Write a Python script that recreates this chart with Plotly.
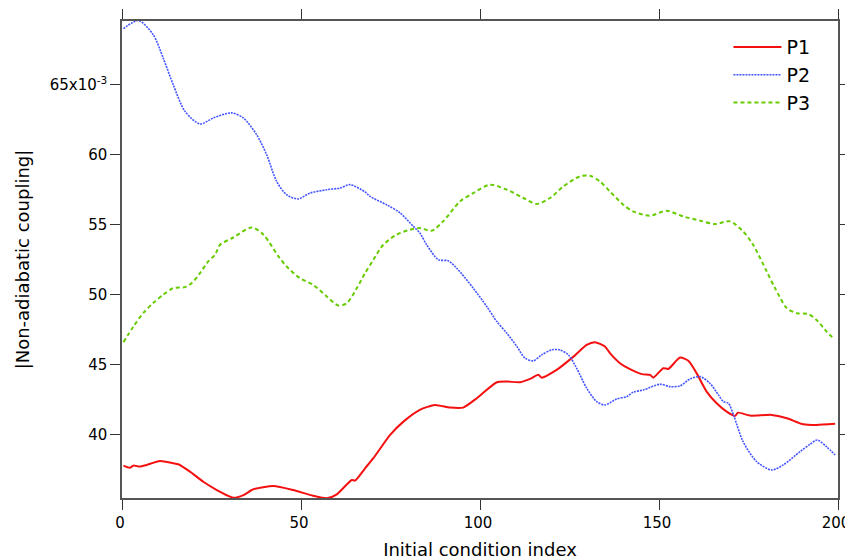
import plotly.graph_objects as go

# values in units of 1e-3
p1_x = [0.4, 2.2, 3.2, 5.0, 6.9, 10.6, 14.3, 15.7, 19.0, 22.7, 26.5, 31.1, 33.9, 36.7, 42.3, 47.8,
        53.4, 57.2, 60.0, 64.2, 65.1, 67.9, 70.2, 74.9, 78.6, 83.2, 87.4, 91.6, 95.3, 99.1, 104.7,
        107.5, 111.2, 114.0, 116.3, 117.2, 121.4, 126.1, 129.8, 132.1, 134.9, 136.3, 139.1, 141.9,
        145.2, 147.5, 148.4, 151.2, 152.6, 155.9, 158.2, 160.5, 163.3, 166.1, 168.9, 171.2, 172.1,
        175.4, 181.5, 185.7, 190.3, 194.0, 199.2]
p1_y = [37.81, 37.66, 37.81, 37.74, 37.86, 38.14, 37.98, 37.91, 37.38, 36.66, 36.07, 35.52, 35.71,
        36.12, 36.36, 36.07, 35.66, 35.48, 35.76, 36.79, 36.74, 37.62, 38.34, 40.0, 40.95, 41.79,
        42.14, 41.95, 41.95, 42.62, 43.76, 43.81, 43.76, 44.0, 44.29, 44.09, 44.64, 45.59, 46.43,
        46.62, 46.31, 45.84, 45.12, 44.69, 44.34, 44.29, 44.09, 44.76, 44.71, 45.52, 45.29, 44.41,
        43.09, 42.26, 41.66, 41.36, 41.59, 41.38, 41.43, 41.19, 40.76, 40.71, 40.79]

p2_x = [0.4, 4.6, 8.7, 11.5, 14.3, 17.6, 21.8, 25.5, 30.6, 33.9, 37.6, 40.4, 43.2, 46.0, 49.2, 52.5,
        57.2, 60.9, 63.7, 67.9, 69.3, 73.9, 77.7, 81.4, 83.2, 85.1, 88.4, 91.1, 93.5, 98.1, 101.9,
        104.7, 107.5, 110.3, 112.6, 114.9, 117.2, 120.0, 122.3, 124.7, 127.0, 129.8, 132.6, 134.9,
        138.2, 141.0, 142.8, 145.6, 150.3, 153.1, 155.9, 158.7, 161.5, 164.2, 166.6, 168.0, 169.4,
        170.8, 173.5, 177.3, 181.5, 184.7, 189.4, 192.2, 194.2, 196.8, 199.2]
p2_y = [69.0, 69.57, 68.57, 66.9, 65.0, 63.09, 62.19, 62.62, 62.98, 62.62, 61.43, 60.0, 58.09,
        57.14, 56.84, 57.26, 57.5, 57.62, 57.86, 57.34, 57.02, 56.43, 55.84, 54.88, 54.41, 53.57,
        52.5, 52.43, 51.9, 50.48, 49.16, 48.09, 47.26, 46.31, 45.48, 45.29, 45.71, 46.07, 46.07,
        45.71, 44.76, 43.34, 42.38, 42.14, 42.57, 42.74, 43.05, 43.21, 43.62, 43.45, 43.5, 44.0,
        44.16, 43.69, 42.86, 42.38, 42.26, 41.43, 39.52, 38.09, 37.5, 37.86, 38.81, 39.34, 39.64,
        39.16, 38.57]

p3_x = [0.4, 3.2, 5.9, 8.7, 11.5, 14.3, 17.6, 19.5, 21.8, 24.1, 26.0, 27.4, 31.1, 36.2, 39.5, 43.7,
        46.0, 49.7, 53.4, 57.2, 60.4, 62.8, 65.6, 67.9, 70.2, 73.0, 76.7, 80.4, 83.2, 86.5, 89.7,
        94.4, 98.1, 102.8, 107.5, 112.1, 115.8, 119.6, 123.3, 127.9, 130.7, 133.5, 136.3, 140.0,
        142.8, 147.5, 152.1, 156.8, 161.5, 165.6, 169.8, 173.5, 176.3, 180.1, 182.4, 185.7, 188.5,
        191.7, 194.0, 196.8, 198.7]
p3_y = [46.62, 47.74, 48.69, 49.41, 50.0, 50.48, 50.55, 50.84, 51.55, 52.38, 52.86, 53.57, 54.09,
        54.81, 54.29, 52.74, 52.02, 51.19, 50.71, 49.88, 49.24, 49.41, 50.48, 51.55, 52.5, 53.57,
        54.29, 54.64, 54.76, 54.57, 55.24, 56.66, 57.26, 57.86, 57.5, 56.91, 56.48, 56.91, 57.74,
        58.45, 58.5, 58.09, 57.38, 56.43, 55.95, 55.64, 56.0, 55.59, 55.29, 55.05, 55.24, 54.52,
        53.57, 51.66, 50.48, 49.05, 48.69, 48.62, 48.21, 47.38, 46.91]

x_ticks = [0, 50, 100, 150, 200]
y_ticks = [40, 45, 50, 55, 60, 65]
y_ticktext = ["40", "45", "50", "55", "60", "65x10<sup>-3</sup>"]

FONT = "DejaVu Sans"

fig = go.Figure()
fig.add_trace(go.Scatter(x=p1_x, y=p1_y, name="P1", mode="lines",
                         line=dict(color="#f51010", width=2, shape="spline", smoothing=0.6)))
fig.add_trace(go.Scatter(x=p2_x, y=p2_y, name="P2", mode="lines",
                         line=dict(color="#4455ff", width=1.6, dash="2px,1px", shape="spline", smoothing=0.8)))
fig.add_trace(go.Scatter(x=p3_x, y=p3_y, name="P3", mode="lines",
                         line=dict(color="#66cc00", width=2, dash="4px,3px", shape="spline", smoothing=0.8)))

axis_common = dict(showgrid=False, zeroline=False, showline=True, linecolor="#555555", linewidth=1.5,
                   mirror="allticks", ticks="outside", ticklen=10, tickwidth=1.2, tickcolor="#333333",
                   tickfont=dict(family=FONT, size=15, color="#000"), automargin=False,
                   ticklabeloverflow="allow")

fig.update_xaxes(range=[0, 200], tickvals=x_ticks, ticklabelshift=-2,
                 title=dict(text="Initial condition index", font=dict(family=FONT, size=18, color="#000")),
                 **axis_common)
fig.update_yaxes(range=[35.5, 69.54], tickvals=y_ticks, ticktext=y_ticktext,
                 title=dict(text="|Non-adiabatic coupling|", font=dict(family=FONT, size=18, color="#000")),
                 **axis_common)

# the page body adds an 8px margin, so the figure is sized/offset to compensate
fig.update_layout(
    width=845, height=552,
    margin=dict(l=114, r=15, t=13, b=62),
    paper_bgcolor="white", plot_bgcolor="white",
    font=dict(family=FONT, color="#000"),
    legend=dict(x=0.847, y=0.985, xanchor="left", yanchor="top", bgcolor="rgba(0,0,0,0)",
                font=dict(family=FONT, size=19), itemwidth=48, tracegroupgap=0),
    showlegend=True,
)

fig.write_html("out.html", config={"displayModeBar": False})
